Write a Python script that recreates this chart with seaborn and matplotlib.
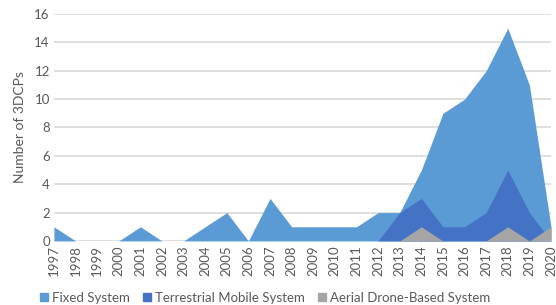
import matplotlib
matplotlib.use("Agg")
import matplotlib.pyplot as plt
import seaborn as sns
import pandas as pd
from matplotlib.patches import Patch

years = list(range(1997, 2021))
fixed = [1, 0, 0, 0, 1, 0, 0, 1, 2, 0, 3, 1, 1, 1, 1, 2, 2, 5, 9, 10, 12, 15, 11, 1]
terrestrial = [0, 0, 0, 0, 0, 0, 0, 0, 0, 0, 0, 0, 0, 0, 0, 0, 2, 3, 1, 1, 2, 5, 2, 0]
aerial = [0, 0, 0, 0, 0, 0, 0, 0, 0, 0, 0, 0, 0, 0, 0, 0, 0, 1, 0, 0, 0, 1, 0, 1]
series_names = ["Fixed System", "Terrestrial Mobile System", "Aerial Drone-Based System"]
colors = ["#5B9BD5", "#4472C4", "#A5A5A5"]

df = pd.DataFrame({"Year": years, series_names[0]: fixed,
                   series_names[1]: terrestrial, series_names[2]: aerial})
long = df.melt(id_vars="Year", var_name="System", value_name="Count")

sns.set_style("white")
plt.rcParams['font.family'] = ['Lato', 'DejaVu Sans']

fig = plt.figure(figsize=(5.56, 3.05), dpi=100)
ax = fig.add_axes([0.097, 0.21, 0.894, 0.744])

sns.lineplot(data=long, x="Year", y="Count", hue="System", palette=colors,
             ax=ax, legend=False, linewidth=0)
for name, c in zip(series_names, colors):
    ax.fill_between(df["Year"], 0, df[name], color=c, linewidth=0, zorder=2)

ax.set_xlim(1997, 2020)
ax.set_ylim(0, 16)
ax.set_yticks(range(0, 17, 2))
ax.set_xticks(years)
ax.set_xticklabels([str(y) for y in years], rotation=90)
ax.grid(axis="y", color="#D9D9D9", linewidth=1.2, zorder=0)
ax.set_axisbelow(True)
for s in ax.spines.values():
    s.set_visible(False)
ax.tick_params(axis="both", length=0, labelsize=9.5, colors="#595959", pad=3)
ax.set_xlabel("")
ax.set_ylabel("Number of 3DCPs", fontsize=10, color="#595959", labelpad=6)

handles = [Patch(color=c, label=n) for n, c in zip(series_names, colors)]
fig.legend(handles=handles, loc="lower center", ncol=3, frameon=False,
           bbox_to_anchor=(0.477, -0.035), fontsize=9.5, handlelength=0.6,
           handleheight=0.6, columnspacing=1.0, handletextpad=0.3,
           labelcolor="#595959")

fig.savefig("out.png", dpi=100)
